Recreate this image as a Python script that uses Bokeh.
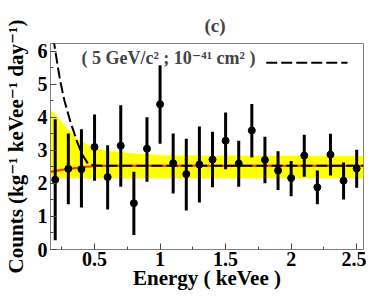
from bokeh.plotting import figure
from bokeh.models import Range1d, FixedTicker, NumeralTickFormatter, Label
from bokeh.embed import file_html
from bokeh.resources import INLINE

# ---- data points with error bars ----
energy = [0.2, 0.3, 0.4, 0.5, 0.6, 0.7, 0.8, 0.9, 1.0, 1.1, 1.2, 1.3,
          1.4, 1.5, 1.6, 1.7, 1.8, 1.9, 2.0, 2.1, 2.2, 2.3, 2.4, 2.5]
counts = [2.11, 2.44, 2.43, 3.10, 2.19, 3.14, 1.40, 3.05, 4.39, 2.61, 2.28, 2.57,
          2.72, 3.29, 2.60, 3.60, 2.71, 2.39, 2.16, 2.84, 1.88, 2.87, 2.08, 2.45]
err_hi = [3.94, 3.51, 3.64, 4.08, 3.15, 4.36, 2.35, 4.00, 5.57, 3.51, 3.35, 3.72,
          3.56, 4.14, 3.29, 4.40, 3.41, 2.97, 2.68, 3.47, 2.39, 3.50, 2.63, 3.02]
err_lo = [0.28, 1.37, 1.27, 2.08, 1.21, 1.90, 0.44, 2.05, 3.20, 1.69, 1.18, 1.42,
          1.88, 2.43, 1.90, 2.78, 2.00, 1.80, 1.61, 2.20, 1.37, 2.24, 1.51, 1.87]

# ---- yellow band ----
band_E  = [0.164, 0.21, 0.28, 0.36, 0.44, 0.51, 0.59, 0.64, 0.75, 0.89, 1.0, 1.2, 2.552]
band_hi = [4.22, 4.04, 3.71, 3.38, 3.18, 3.06, 2.98, 2.96, 2.92, 2.88, 2.85, 2.84, 2.83]
band_lo = [2.15, 2.15, 2.15, 2.15, 2.15, 2.15, 2.15, 2.15, 2.15, 2.15, 2.15, 2.15, 2.15]

# ---- red background curve ----
bg_E   = [0.164, 0.28, 0.44, 0.54, 2.552]
bg_val = [2.35, 2.43, 2.50, 2.53, 2.53]

# ---- black dashed signal + background curve ----
sig_E   = [0.185, 0.213, 0.238, 0.271, 0.314, 0.365, 0.405, 0.449, 0.487, 0.55, 2.552]
sig_val = [6.40, 5.70, 5.10, 4.49, 3.89, 3.28, 2.88, 2.60, 2.55, 2.53, 2.53]

x_ticks = [0.5, 1, 1.5, 2, 2.5]
x_minor = [0.25, 0.75, 1.25, 1.75, 2.25]
y_ticks = [0, 1, 2, 3, 4, 5, 6]
y_minor = [0.5, 1.5, 2.5, 3.5, 4.5, 5.5]

x_title = "Energy ( keVee )"
y_title = "Counts (kg\u207b\u00b9 keVee\u207b\u00b9 day\u207b\u00b9)"
legend_text = "( 5 GeV/c\u00b2 ;  10\u207b\u2074\u00b9 cm\u00b2 )"

FONT = "Liberation Serif, DejaVu Serif, serif"

p = figure(width=366, height=294, output_backend="svg", toolbar_location=None,
           x_range=Range1d(0.164, 2.552), y_range=Range1d(0, 6.23),
           min_border_left=48, min_border_right=3, min_border_top=43, min_border_bottom=45)
p.background_fill_color = "white"
p.border_fill_color = "white"
p.grid.visible = False
p.outline_line_color = "#808080"
p.outline_line_width = 1

p.title.text = "(c)"
p.title.text_font = FONT
p.title.text_font_style = "bold"
p.title.text_font_size = "19px"
p.title.align = "left"
p.title.offset = 154
p.title.standoff = 16

for ax in (p.xaxis[0], p.yaxis[0]):
    ax.axis_line_color = "#808080"
    ax.major_tick_in = 6
    ax.major_tick_out = 0
    ax.minor_tick_in = 3
    ax.minor_tick_out = 0
    ax.major_tick_line_color = "#444444"
    ax.minor_tick_line_color = "#444444"
    ax.major_label_text_font = FONT
    ax.major_label_text_font_style = "bold"
    ax.major_label_text_font_size = "20px"
    ax.major_label_text_color = "black"
    ax.axis_label_text_font = FONT
    ax.axis_label_text_font_style = "bold"
    ax.axis_label_text_color = "black"

p.xaxis.ticker = FixedTicker(ticks=x_ticks, minor_ticks=x_minor)
p.xaxis.formatter = NumeralTickFormatter(format="0.[0]")
p.xaxis.axis_label = x_title
p.xaxis.axis_label_text_font_size = "21px"
p.xaxis.major_label_standoff = 2
p.xaxis.axis_label_standoff = -3

p.yaxis.ticker = FixedTicker(ticks=y_ticks, minor_ticks=y_minor)
p.yaxis.axis_label = y_title
p.yaxis.axis_label_text_font_size = "21px"
p.yaxis.major_label_standoff = 3
p.yaxis.axis_label_standoff = 7

# band
p.varea(x=band_E, y1=band_lo, y2=band_hi, fill_color="#ffff00")
# red background line
p.line(bg_E, bg_val, line_color="#ff2a00", line_width=2)
# dashed curve
p.line(sig_E, sig_val, line_color="black", line_width=2, line_dash="11 4")
# error bars and points
p.segment(x0=energy, y0=err_lo, x1=energy, y1=err_hi, line_color="black", line_width=3)
p.scatter(energy, counts, size=7, fill_color="black", line_color="black")

# legend
p.add_layout(Label(x=0.40, y=5.80, text=legend_text, text_font=FONT,
                   text_font_style="bold", text_font_size="18px",
                   text_baseline="middle", text_align="left"))
p.line([1.81, 2.43], [5.65, 5.65], line_color="black", line_width=2, line_dash="11 4")

open("out.html", "w").write(file_html(p, INLINE))
